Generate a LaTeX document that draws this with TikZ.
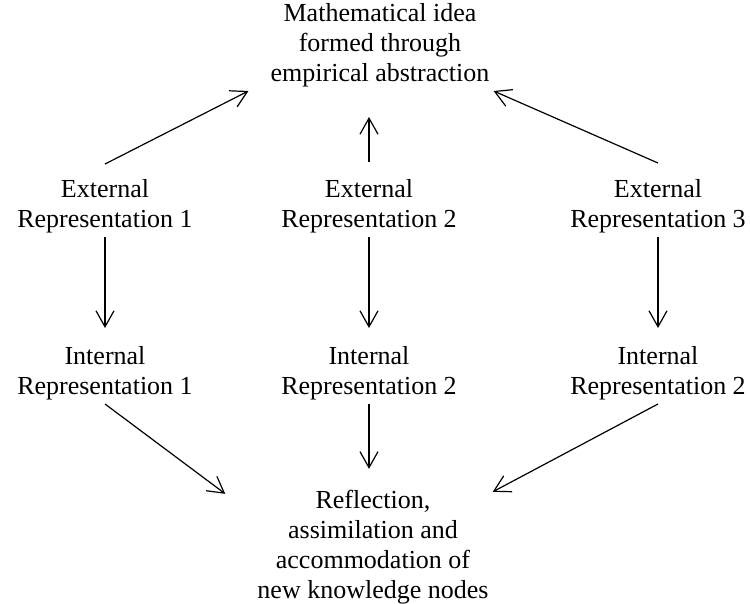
\documentclass[tikz,border=0pt]{standalone}
\usepackage{fontspec}
\setmainfont{Liberation Serif}
\usetikzlibrary{arrows.meta,positioning,calc}

\begin{document}
\begin{tikzpicture}[x=1pt, y=-1pt,
  txt/.style={align=center, inner sep=4pt, font=\fontsize{26}{30}\selectfont},
  arr/.style={-{Straight Barb[length=16pt,width=18pt]}, line width=1.2pt}
]
  \useasboundingbox (0,0) rectangle (750,604);
  \node[txt] (idea) at (380,45) {Mathematical idea\\formed through\\empirical abstraction};
  \node[txt] (refl) at (373,547) {Reflection,\\assimilation and\\accommodation of\\new knowledge nodes};
  % the three columns of representations
  \foreach \i/\x/\n in {1/105/1,2/369/2,3/658/2}{
    \node[txt] (ext\i) at (\x,206) {External\\Representation \i};
    \node[txt] (int\i) at (\x,373) {Internal\\Representation \n};
    \draw[arr, shorten >=14pt] (ext\i.south) -- (int\i.north);
  }
  % up to the idea
  \draw[arr] ([yshift=11pt]ext1.north) -- ([xshift=-18pt]idea.south west);
  \draw[arr, shorten <=13pt, shorten >=26pt] (ext2.north) -- (ext2.north |- idea.south);
  \draw[arr] ([yshift=12pt]ext3.north) -- (idea.south east);
  % down to reflection
  \draw[arr] (int1.south) -- ([xshift=-28pt,yshift=-8pt]refl.north west);
  \draw[arr, shorten >=17pt] (int2.south) -- (int2.south |- refl.north);
  \draw[arr] (int3.south) -- ([yshift=-6pt]refl.north east);
\end{tikzpicture}
\end{document}
